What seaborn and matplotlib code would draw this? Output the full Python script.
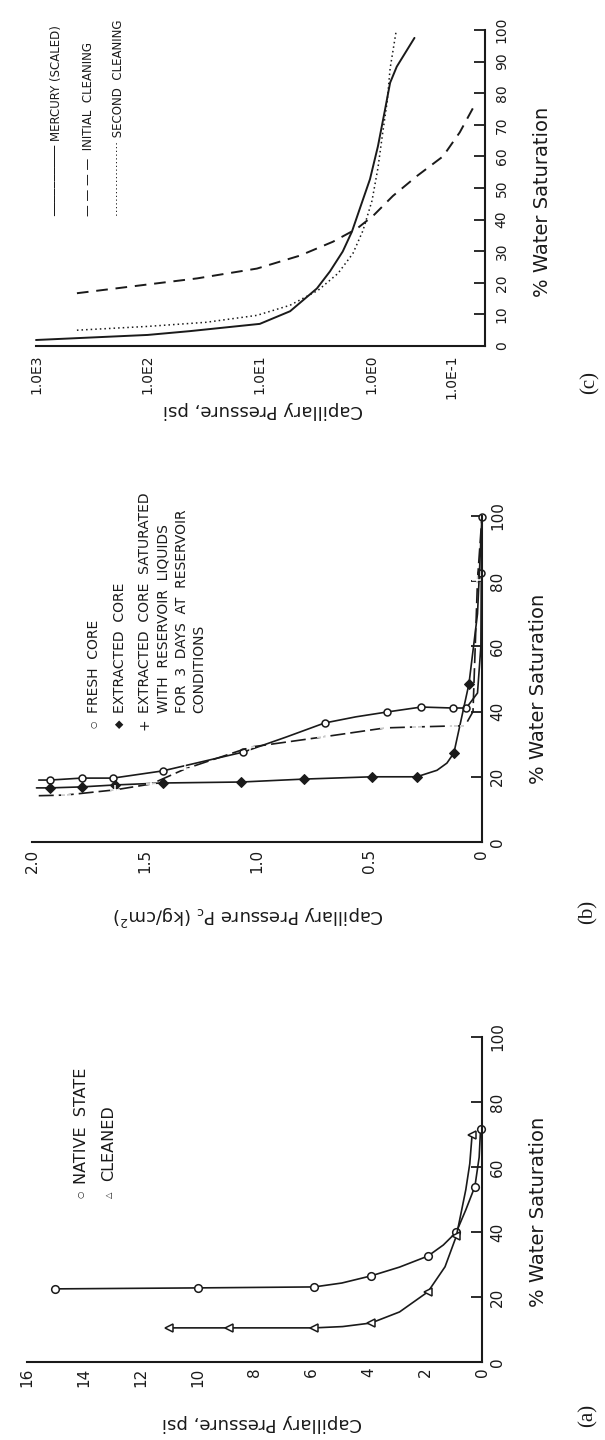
import numpy as np
import matplotlib
matplotlib.use("Agg")
import matplotlib.pyplot as plt
import seaborn as sns
from matplotlib.ticker import FixedLocator, NullFormatter

# ---------------- data ----------------
# panel (a): capillary pressure (psi) vs water saturation (%)
a_native_p = [15.0, 10.0, 5.9, 4.93, 3.9, 2.9, 1.9, 1.36, 0.9, 0.57, 0.25, 0.1, 0.05]
a_native_sw = [22.5, 22.8, 23.1, 24.3, 26.5, 29.2, 32.6, 36.0, 40.0, 46.8, 54.0, 63.0, 71.7]
a_native_mark = [0, 1, 2, 4, 6, 8, 10, 12]
a_clean_p = [11.0, 8.9, 5.9, 4.9, 3.9, 2.9, 1.9, 1.3, 0.9, 0.57, 0.43, 0.35]
a_clean_sw = [10.5, 10.5, 10.5, 10.9, 12.0, 15.4, 21.6, 29.3, 38.8, 53.0, 61.0, 69.8]
a_clean_mark = [0, 1, 2, 4, 6, 8, 11]
a_p_ticks = [0, 2, 4, 6, 8, 10, 12, 14, 16]
a_p_labels = ["0", "2", "4", "6", "8", "10", "12", "14", "16"]
a_sw_ticks = [0, 20, 40, 60, 80, 100]

# panel (b): capillary pressure (kg/cm2) vs water saturation (%)
b_fresh_p = [1.97, 1.92, 1.78, 1.64, 1.42, 1.06, 0.87, 0.70, 0.56, 0.42, 0.27, 0.13, 0.07,
             0.02, 0.005, 0.003, 0.0]
b_fresh_sw = [19.0, 19.0, 19.6, 19.6, 21.8, 27.6, 32.2, 36.5, 38.4, 39.9, 41.4, 41.1, 41.1,
              45.7, 60.0, 82.5, 99.7]
b_fresh_mark = [1, 2, 3, 4, 5, 7, 9, 10, 11, 12, 15, 16]
b_extr_p = [1.98, 1.92, 1.78, 1.63, 1.42, 1.07, 0.79, 0.49, 0.29, 0.20, 0.156, 0.125, 0.058, 0.02, 0.0]
b_extr_sw = [16.6, 16.6, 16.9, 17.5, 18.1, 18.4, 19.3, 20.0, 20.0, 22.0, 24.2, 27.3, 48.5, 70.0, 100.0]
b_extr_mark = [1, 2, 3, 4, 5, 6, 7, 8, 11, 12]
b_sat_p = [1.97, 1.85, 1.63, 1.47, 1.32, 1.03, 0.71, 0.43, 0.29, 0.13, 0.076, 0.04, 0.02, 0.0]
b_sat_sw = [14.2, 14.4, 16.0, 17.8, 22.4, 29.1, 32.2, 35.0, 35.3, 35.6, 35.6, 40.0, 80.4, 100.0]
b_sat_mark = [1, 2, 3, 4, 5, 6, 7, 8, 9, 10, 12]
b_p_ticks = [0, 0.5, 1.0, 1.5, 2.0]
b_p_labels = ["0", "0.5", "1.0", "1.5", "2.0"]
b_sw_ticks = [0, 20, 40, 60, 80, 100]

# panel (c): capillary pressure (psi, log) vs water saturation (%)
c_merc_p = [1000, 100, 42, 9.9, 5.3, 3.05, 2.33, 1.79, 1.48, 1.26, 1.02, 0.82, 0.67, 0.58, 0.48, 0.29]
c_merc_sw = [1.9, 3.5, 4.7, 7.0, 11.0, 18.2, 23.6, 29.9, 36.2, 43.4, 52.8, 63.2, 74.8, 83.3, 88.4, 97.5]
c_init_p = [430, 135, 36, 10.5, 4.33, 2.19, 1.34, 0.94, 0.535, 0.27, 0.129, 0.080, 0.052]
c_init_sw = [16.7, 18.9, 21.4, 24.5, 28.6, 33.0, 37.1, 41.2, 47.5, 53.8, 60.0, 67.6, 76.4]
c_second_p = [430, 100, 30, 10.5, 5.3, 2.98, 1.97, 1.45, 1.18, 0.97, 0.82, 0.72, 0.63, 0.58, 0.49]
c_second_sw = [5.0, 6.2, 7.5, 9.7, 12.9, 17.6, 23.0, 29.3, 36.5, 46.0, 56.3, 67.0, 77.4, 87.8, 99.4]
c_p_ticks = [1000, 100, 10, 1, 0.1]
c_p_labels = ["1.0E3", "1.0E2", "1.0E1", "1.0E0", "1.0E-1"]
c_sw_ticks = [0, 10, 20, 30, 40, 50, 60, 70, 80, 90, 100]

# ---------------- figure ----------------
sns.set_style("white")
plt.rcParams["font.family"] = ["DejaVu Sans"]

W, H = 605, 1440
fig = plt.figure(figsize=(W / 100, H / 100), dpi=100)
INK = "#1a1a1a"


def fx(x):
    return x / W


def fy(y):
    return 1 - y / H


def make_axes(left, top, right, bottom):
    ax = fig.add_axes([fx(left), fy(bottom), (right - left) / W, (bottom - top) / H])
    ax.set_facecolor("none")
    return ax, (left, top, right, bottom)


def to_ax(box, x, y):
    l, t, r, b = box
    return (x - l) / (r - l), (b - y) / (b - t)


def style(ax, box, xlabel, xl_pos, ylabel, yl_pos, xfs, yfs, tfs, xpad, ypad):
    sns.despine(ax=ax, top=True, left=True, right=False, bottom=False)
    ax.yaxis.tick_right()
    ax.yaxis.set_label_position("right")
    for s in ("bottom", "right"):
        ax.spines[s].set_linewidth(1.5)
        ax.spines[s].set_color(INK)
    ax.tick_params(which="major", direction="in", length=8, width=1.3, color=INK,
                   labelsize=tfs, labelcolor=INK)
    ax.tick_params(axis="x", labelrotation=90, pad=xpad)
    ax.tick_params(axis="y", labelrotation=90, pad=ypad)
    for t in ax.get_yticklabels():
        t.set_verticalalignment("center")
    ax.set_xlabel(xlabel, rotation=180, fontsize=xfs, color=INK)
    ax.xaxis.set_label_coords(*to_ax(box, *xl_pos))
    ax.xaxis.label.set_verticalalignment("center")
    ax.xaxis.label.set_horizontalalignment("center")
    ax.set_ylabel(ylabel, rotation=90, fontsize=yfs, color=INK)
    ax.yaxis.set_label_coords(*to_ax(box, *yl_pos))
    ax.yaxis.label.set_verticalalignment("center")
    ax.yaxis.label.set_horizontalalignment("center")
    ax.grid(False)


line_kw = dict(color=INK, linewidth=1.2, sort=False, estimator=None, clip_on=False)

# ---------------- panel (a) ----------------
axA, boxA = make_axes(27, 1037, 482, 1362)
sns.lineplot(x=a_native_p, y=a_native_sw, ax=axA, marker="o", markersize=5.5,
             markerfacecolor="white", markeredgecolor=INK, markeredgewidth=1.1,
             markevery=a_native_mark, **line_kw)
sns.lineplot(x=a_clean_p, y=a_clean_sw, ax=axA, marker="<", markersize=5.5,
             markerfacecolor="white", markeredgecolor=INK, markeredgewidth=1.1,
             markevery=a_clean_mark, **line_kw)
axA.set_xlim(16, 0)
axA.set_ylim(0, 100)
axA.set_xticks(a_p_ticks, a_p_labels)
axA.set_yticks(a_sw_ticks, [str(v) for v in a_sw_ticks])
style(axA, boxA, "Capillary Pressure, psi", (262, 1423), "% Water Saturation", (538, 1212),
      13, 14, 11, 4, 6)

fig.text(fx(81), fy(1194), "○", rotation=90, ha="center", va="center", fontsize=6, color=INK)
fig.text(fx(81), fy(1184), "NATIVE  STATE", rotation=90, ha="center", va="bottom", fontsize=11.5, color=INK)
fig.text(fx(109), fy(1195), "△", rotation=90, ha="center", va="center", fontsize=6, color=INK)
fig.text(fx(109), fy(1181), "CLEANED", rotation=90, ha="center", va="bottom", fontsize=11.5, color=INK)
fig.text(fx(588), fy(1415), "(a)", rotation=90, ha="center", va="center", fontsize=15,
         family=["Liberation Serif", "DejaVu Serif"], color=INK)

# ---------------- panel (b) ----------------
axB, boxB = make_axes(32, 516, 482, 842)
sns.lineplot(x=b_fresh_p, y=b_fresh_sw, ax=axB, marker="o", markersize=5,
             markerfacecolor="white", markeredgecolor=INK, markeredgewidth=1.1,
             markevery=b_fresh_mark, **line_kw)
sns.lineplot(x=b_extr_p, y=b_extr_sw, ax=axB, marker="D", markersize=5,
             markerfacecolor=INK, markeredgecolor=INK, markevery=b_extr_mark, **line_kw)
sns.lineplot(x=b_sat_p, y=b_sat_sw, ax=axB, marker="+", markersize=7, markeredgewidth=1.1,
             markevery=b_sat_mark, linestyle=(0, (9, 3)), **line_kw)
axB.set_xlim(2.0, 0)
axB.set_ylim(0, 100)
axB.set_xticks(b_p_ticks, b_p_labels)
axB.set_yticks(b_sw_ticks, [str(v) for v in b_sw_ticks])
style(axB, boxB, r"Capillary Pressure P$_{\rm c}$ (kg/cm$^2$)", (248, 915),
      "% Water Saturation", (539, 689), 13, 14, 11, 5, 6)

leg_b = [(94, "○", "FRESH  CORE", 6),
         (120, "◆", "EXTRACTED  CORE", 8),
         (145, "+", "EXTRACTED  CORE  SATURATED", 10)]
for x, sym, txt, sfs in leg_b:
    fig.text(fx(x), fy(724), sym, rotation=90, ha="center", va="center", fontsize=sfs, color=INK)
    fig.text(fx(x), fy(713), txt, rotation=90, ha="center", va="bottom", fontsize=10, color=INK)
for x, txt in [(164, "WITH  RESERVOIR  LIQUIDS"), (182, "FOR  3  DAYS  AT  RESERVOIR"),
               (199, "CONDITIONS")]:
    fig.text(fx(x), fy(713), txt, rotation=90, ha="center", va="bottom", fontsize=10, color=INK)
fig.text(fx(588), fy(912), "(b)", rotation=90, ha="center", va="center", fontsize=15,
         family=["Liberation Serif", "DejaVu Serif"], color=INK)

# ---------------- panel (c) ----------------
K = 0.725  # the decade below 1.0E0 is drawn shorter in the original


def fwd(x):
    x = np.clip(np.asarray(x, dtype=float), 1e-9, None)
    lg = np.log10(x)
    return np.where(lg >= 0, lg, lg * K)


def inv(u):
    u = np.asarray(u, dtype=float)
    return np.where(u >= 0, 10.0 ** u, 10.0 ** (u / K))


axC, boxC = make_axes(36, 30, 485, 346)
axC.set_xscale("function", functions=(fwd, inv))
sns.lineplot(x=c_merc_p, y=c_merc_sw, ax=axC, linewidth=1.4, color=INK, sort=False,
             estimator=None, clip_on=False)
sns.lineplot(x=c_init_p, y=c_init_sw, ax=axC, linewidth=1.4, color=INK, sort=False,
             estimator=None, clip_on=False, linestyle=(0, (6, 4)))
sns.lineplot(x=c_second_p, y=c_second_sw, ax=axC, linewidth=1.1, color=INK, sort=False,
             estimator=None, clip_on=False, linestyle=(0, (1, 2)))
axC.set_xlim(1000, 0.039)
axC.set_ylim(0, 100)
axC.xaxis.set_major_locator(FixedLocator(c_p_ticks))
axC.set_xticklabels(c_p_labels)
minor = [m * 10.0 ** e for e in (-1, 0, 1, 2) for m in range(2, 10)]
axC.xaxis.set_minor_locator(FixedLocator(minor))
axC.xaxis.set_minor_formatter(NullFormatter())
axC.set_yticks(c_sw_ticks, [str(v) for v in c_sw_ticks])
style(axC, boxC, "Capillary Pressure, psi", (263, 410), "% Water Saturation", (542, 202),
      13, 14, 10, 6, 7)
axC.tick_params(axis="x", which="minor", direction="in", length=4, width=1.1, color=INK)
axC.yaxis.set_minor_locator(FixedLocator([]))

leg_c = [(57, "─" * 10 + " MERCURY (SCALED)"),
         (88, "— — — —  INITIAL  CLEANING"),
         (118, "·" * 20 + " SECOND  CLEANING")]
for x, txt in leg_c:
    fig.text(fx(x), fy(216), txt, rotation=90, ha="center", va="bottom", fontsize=8.5, color=INK)
fig.text(fx(590), fy(383), "(c)", rotation=90, ha="center", va="center", fontsize=15,
         family=["Liberation Serif", "DejaVu Serif"], color=INK)

fig.savefig("out.png", dpi=100)
